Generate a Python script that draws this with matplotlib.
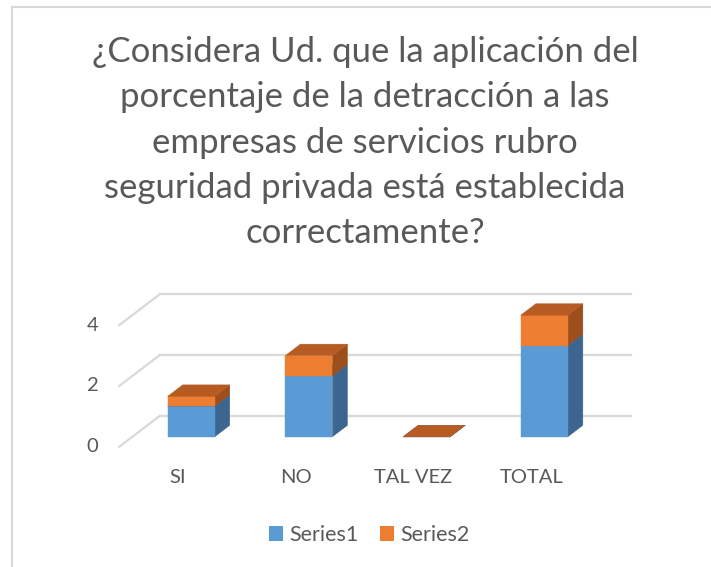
import matplotlib.pyplot as plt
from matplotlib.patches import Polygon, Rectangle, Patch

# ============================================================
# Columnas apiladas 3D (estilo Excel) – encuesta detracción
# ============================================================

categories = ["SI", "NO", "TAL VEZ", "TOTAL"]
series1 = [1, 2, 0, 3]
series2 = [0.33, 0.67, 0, 1.0]
series_names = ["Series1", "Series2"]
y_ticks = [0, 2, 4]

title = ("¿Considera Ud. que la aplicación del\n"
         "porcentaje de la detracción a las\n"
         "empresas de servicios rubro\n"
         "seguridad privada está establecida\n"
         "correctamente?")

W, H = 711, 567
ORIGIN_PX = (119.3, 446.7)   # esquina frontal izquierda del piso
SLOT_PX = 117.7              # ancho de cada categoría
UNIT_PX = 30.4               # pixeles por unidad del eje de valores
DEPTH = (40.7 / SLOT_PX, 31.0 / UNIT_PX)   # vector de profundidad (oblicuo)

BAR_W = 0.40
D_FRONT, D_BACK = 0.32, 0.69

GRAY_TXT = "#595959"
GRID = "#D9D9D9"
COLORS = {
    "s1": ("#5B9BD5", "#3C6690", "#4A80B5"),   # frente, lado, techo
    "s2": ("#ED7D31", "#9C4E1C", "#B65C22"),
}

plt.rcParams["font.family"] = ["Lato", "DejaVu Sans"]

fig = plt.figure(figsize=(W / 100, H / 100), dpi=100)
ax = fig.add_axes([0, 0, 1, 1])
ax.set_xlim(-ORIGIN_PX[0] / SLOT_PX, (W - ORIGIN_PX[0]) / SLOT_PX)
ax.set_ylim(-(H - ORIGIN_PX[1]) / UNIT_PX, ORIGIN_PX[1] / UNIT_PX)
ax.axis("off")


def proj(x, v, d):
    """Proyección oblicua: categoría, valor, profundidad (0 frente, 1 fondo)."""
    return (x + d * DEPTH[0], v + d * DEPTH[1])


# borde del área del gráfico
fig.patches.append(Rectangle((12 / W, -0.1), 1.2, 1.1 - 7 / H,
                             transform=fig.transFigure, fill=False,
                             edgecolor=GRID, linewidth=1.5))

n = len(categories)

# pared del fondo y pared lateral
for v in y_ticks:
    x0, y0 = proj(0, v, 1)
    x1, y1 = proj(n, v, 1)
    ax.plot([x0, x1], [y0, y1], color=GRID, linewidth=1.6, zorder=1)
    fx, fy = proj(0, v, 0)
    ax.plot([fx, x0], [fy, y0], color=GRID, linewidth=1.6, zorder=1)
    ax.text(fx - 0.226, fy, str(v), ha="center", va="center",
            fontsize=14.5, color=GRAY_TXT)


def draw_box(x0, x1, v0, v1, cols, z):
    front, side, top = cols
    face = [proj(x0, v0, D_FRONT), proj(x1, v0, D_FRONT),
            proj(x1, v1, D_FRONT), proj(x0, v1, D_FRONT)]
    rside = [proj(x1, v0, D_FRONT), proj(x1, v0, D_BACK),
             proj(x1, v1, D_BACK), proj(x1, v1, D_FRONT)]
    roof = [proj(x0, v1, D_FRONT), proj(x1, v1, D_FRONT),
            proj(x1, v1, D_BACK), proj(x0, v1, D_BACK)]
    for pts, c in [(rside, side), (face, front), (roof, top)]:
        ax.add_patch(Polygon(pts, closed=True, facecolor=c,
                             edgecolor=c, linewidth=0.3, zorder=z))


for i, cat in enumerate(categories):
    x0 = i + (1 - BAR_W) / 2
    x1 = x0 + BAR_W
    draw_box(x0, x1, 0, series1[i], COLORS["s1"], 3)
    draw_box(x0, x1, series1[i], series1[i] + series2[i], COLORS["s2"], 4)
    lx, ly = proj(i + 0.5, 0, 0)
    ax.text(lx, ly - 1.0, cat, ha="center", va="center",
            fontsize=14.5, color=GRAY_TXT)

fig.text(365 / W, 1 - 142.5 / H, title, ha="center", va="center",
         fontsize=25, color=GRAY_TXT, linespacing=1.51)

handles = [Patch(facecolor=COLORS["s1"][0]), Patch(facecolor=COLORS["s2"][0])]
fig.legend(handles, series_names, loc="center",
           bbox_to_anchor=(369 / W, 1 - 535 / H), ncol=2, frameon=False,
           fontsize=15.5, labelcolor=GRAY_TXT, handlelength=0.65,
           handleheight=0.65, handletextpad=0.3, columnspacing=1.0)

fig.savefig("out.png", dpi=100)
